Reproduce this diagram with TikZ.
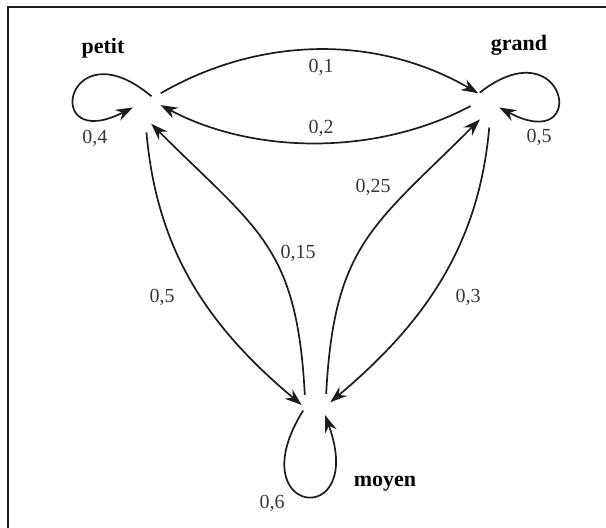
\documentclass[tikz,border=0pt]{standalone}
\usepackage{fontspec}
\setmainfont{Liberation Serif}
\usepackage{xcolor}
\definecolor{inkline}{RGB}{28,28,28}
\definecolor{probtext}{RGB}{55,55,55}
\usetikzlibrary{arrows.meta}

\begin{document}
\begin{tikzpicture}[
  x=0.5pt, y=0.5pt,
  font=\fontsize{10}{12}\selectfont,
  % --- diagram style: edit visual look here ---------------------------
  state/.style={circle, minimum size=14pt, inner sep=0pt},
  statename/.style={font=\fontsize{11}{13}\selectfont\bfseries, text=black},
  prob/.style={text=probtext, inner sep=0pt},
  trans/.style={inkline, line width=0.85pt,
                -{Stealth[length=8.5pt, width=6pt, inset=2.8pt]}},
  gap/.style={shorten <=4pt},
  frameline/.style={inkline, line width=1.2pt},
  % ---------------------------------------------------------------------
]
  \useasboundingbox (0,0) rectangle (606,-528);
  \draw[frameline] (606,-7) -- (8,-7) -- (8,-528);

  % States (invisible anchors)
  \node[state] (petit) at (147,-110) {};
  \node[state] (grand) at (485,-106) {};
  \node[state] (moyen) at (316,-404) {};

  % State names
  \node[statename] (petitname) at (103,-48)  {petit};
  \node[statename] (grandname) at (519,-45)  {grand};
  \node[statename] (moyenname) at (385,-484) {moyen};

  % Transitions
  \draw[trans, gap] (petit.62) .. controls +(30:120) and +(150:120) .. (grand.118);
  \draw[trans] (grand.180) .. controls +(208:106) and +(-28:106) .. (petit.20);
  \draw[trans, gap] (petit.-95) .. controls +(-85:125) and +(140:125) .. (moyen.184);
  \draw[trans] (moyen.141) .. controls +(93:150) and +(-45:150) .. (petit.-73);
  \draw[trans] (moyen.45) .. controls +(87:150) and +(225:150) .. (grand.249);
  \draw[trans, gap] (grand.290) .. controls +(-95:125) and +(40:125) .. (moyen.7);

  % Loops
  \draw[trans] (petit.72) .. controls +(140:112) and +(207:104) .. (petit.170);
  \draw[trans] (grand.111) .. controls +(38:110) and +(-28:104) .. (grand.-6);
  \draw[trans] (moyen.207) .. controls +(238:124) and +(290:124) .. (moyen.309);

  % Probabilities
  \node[prob] (p11) at (321,-67)  {0,1};
  \node[prob] (p21) at (321,-128) {0,2};
  \node[prob] (p00) at (95,-138)  {0,4};
  \node[prob] (p22) at (539,-137) {0,5};
  \node[prob] (p32) at (373,-187) {0,25};
  \node[prob] (p31) at (298,-253) {0,15};
  \node[prob] (p13) at (162,-297) {0,5};
  \node[prob] (p23) at (468,-297) {0,3};
  \node[prob] (p33) at (272,-503) {0,6};
\end{tikzpicture}
\end{document}
